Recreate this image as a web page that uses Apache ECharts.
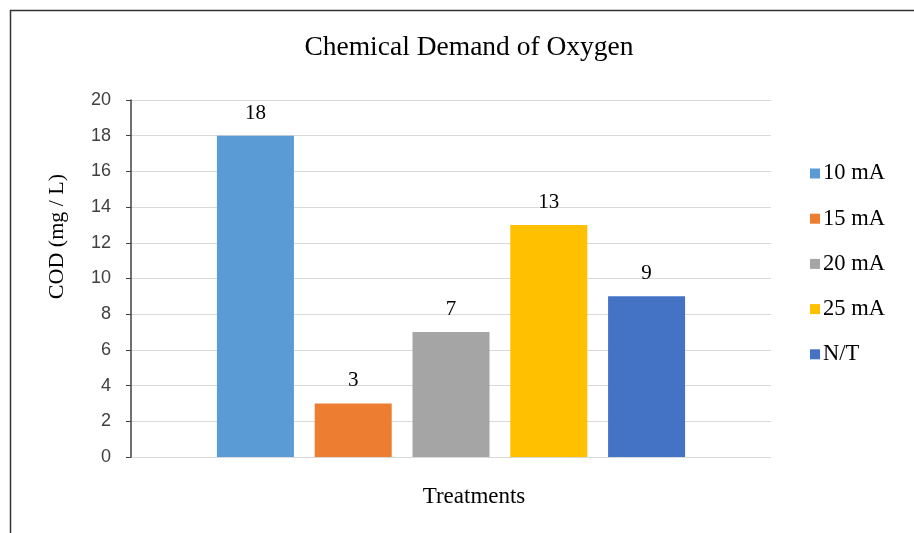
<!DOCTYPE html>
<html><head><meta charset="utf-8">
<script src="https://cdn.jsdelivr.net/npm/echarts@6/dist/echarts.min.js"></script>
<style>html,body{margin:0;padding:0;background:#fff}#c{width:914px;height:533px}</style>
</head><body><div id="c"></div>
<script>
const categories = [''];
const seriesNames = ['10 mA', '15 mA', '20 mA', '25 mA', 'N/T'];
const seriesValues = [[18], [3], [7], [13], [9]];
const colors = ['#5B9BD5', '#ED7D31', '#A5A5A5', '#FFC000', '#4472C4'];
const yTicks = {min: 0, max: 20, interval: 2};

const chart = echarts.init(document.getElementById('c'));
const serif = '"Liberation Serif", "Times New Roman", serif';
chart.setOption({
  animation: false,
  title: {text: 'Chemical Demand of Oxygen', left: 464, top: 29, textAlign: 'center',
    textStyle: {fontFamily: serif, fontSize: 27.5, fontWeight: 'normal', color: '#000'}},
  graphic: [{type: 'rect', shape: {x: 10.5, y: 10.5, width: 1000, height: 1000},
    style: {fill: 'none', stroke: '#333', lineWidth: 1.5}, silent: true}],
  grid: {left: 131, right: 143, top: 100, bottom: 76},
  legend: {orient: 'vertical', left: 805, top: 157, itemWidth: 10, itemHeight: 10, itemGap: 22.2,
    icon: 'rect', textStyle: {fontFamily: serif, fontSize: 22.5, color: '#000', padding: [0, 0, 0, -2]},
    data: seriesNames},
  xAxis: {type: 'category', data: categories, name: 'Treatments', nameLocation: 'middle', nameGap: 28,
    nameTextStyle: {fontFamily: serif, fontSize: 23, color: '#000', padding: [0, 0, 0, 46]},
    axisLine: {show: false}, axisTick: {show: false}, axisLabel: {show: false}},
  yAxis: {type: 'value', min: yTicks.min, max: yTicks.max, interval: yTicks.interval,
    name: 'COD (mg / L)', nameLocation: 'middle', nameGap: 63, nameRotate: 90,
    nameTextStyle: {fontFamily: serif, fontSize: 22, color: '#000', padding: [0, 0, 0, 84]},
    axisLine: {show: true, lineStyle: {color: '#404040', width: 1.5}},
    axisTick: {show: true, inside: false, length: 5, lineStyle: {color: '#404040'}},
    axisLabel: {fontFamily: '"Liberation Sans", Arial, sans-serif', fontSize: 18, color: '#404040', margin: 20},
    splitLine: {lineStyle: {color: '#D9D9D9', width: 1.2}}},
  series: seriesNames.map((n, i) => ({
    name: n, type: 'bar', data: seriesValues[i], barWidth: 77, barGap: '27%',
    itemStyle: {color: colors[i]},
    label: {show: true, position: 'top', distance: 12, fontFamily: serif, fontSize: 21, color: '#000'}
  }))
});
</script></body></html>
